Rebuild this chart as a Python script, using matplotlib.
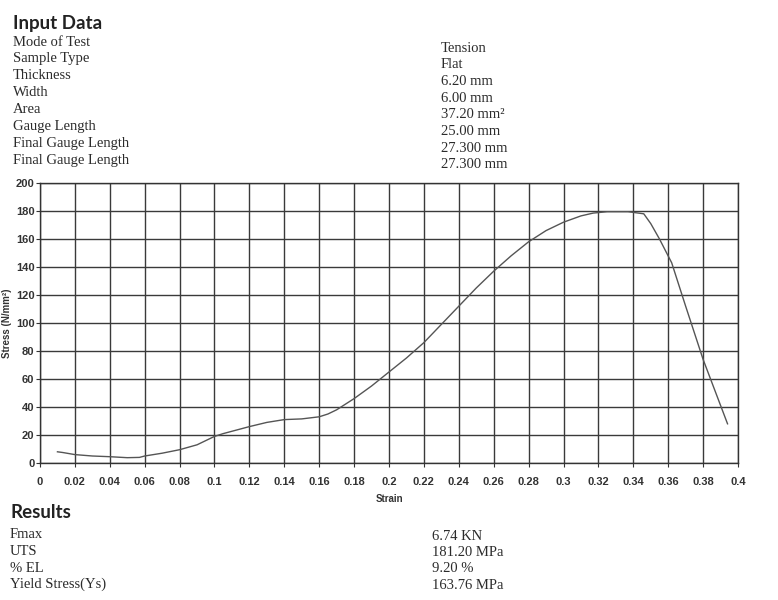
import matplotlib.pyplot as plt
import numpy as np
from matplotlib.ticker import FuncFormatter, MultipleLocator

# stress-strain record
strain = [0.010, 0.013, 0.020, 0.030, 0.040, 0.050, 0.057, 0.060, 0.070, 0.080,
          0.090, 0.100, 0.105, 0.120, 0.130, 0.140, 0.150, 0.160, 0.165, 0.170,
          0.180, 0.190, 0.200, 0.210, 0.220, 0.230, 0.240, 0.250, 0.260, 0.270,
          0.280, 0.290, 0.300, 0.310, 0.317, 0.325, 0.337, 0.346, 0.350, 0.355,
          0.362, 0.370, 0.380, 0.394]
stress = [8.0, 7.5, 6.0, 5.0, 4.5, 3.8, 4.0, 5.0, 7.0, 9.5,
          13.0, 19.0, 21.0, 26.0, 29.0, 31.0, 31.5, 33.0, 35.0, 38.0,
          46.0, 55.0, 65.0, 75.0, 86.0, 99.0, 112.0, 125.0, 137.0, 148.0,
          158.0, 166.0, 172.0, 176.5, 178.5, 179.5, 179.5, 178.0, 171.0, 160.0,
          143.0, 112.0, 74.0, 28.0]

input_labels = ['Mode of Test', 'Sample Type', 'Thickness', 'Width', 'Area',
                'Gauge Length', 'Final Gauge Length', 'Final Gauge Length']
input_values = ['Tension', 'Flat', '6.20 mm', '6.00 mm', '37.20 mm²',
                '25.00 mm', '27.300 mm', '27.300 mm']

result_labels = ['Fmax', 'UTS', '% EL', 'Yield Stress(Ys)']
result_values = ['6.74 KN', '181.20 MPa', '9.20 %', '163.76 MPa']

serif = 'Liberation Serif'
head = 'Lato'
narrow = ['Liberation Sans Narrow', 'Liberation Sans', 'DejaVu Sans']
ink = '#2b2b2b'

fig = plt.figure(figsize=(7.78, 6.0), dpi=100)

def px(x, y):
    return x / 778, 1 - y / 600

fig.text(*px(13, 24), 'Input Data', family=head, weight='bold', fontsize=13.5,
         color='#222222', va='center')
for i, (lab, val) in enumerate(zip(input_labels, input_values)):
    fig.text(*px(13, 42 + i * 16.9), lab, family=serif, fontsize=10.5, color=ink,
             va='center')
    fig.text(*px(441, 48 + i * 16.7), val, family=serif, fontsize=10.5, color=ink,
             va='center')

fig.text(*px(10, 513), 'Results', family=head, weight='bold', fontsize=13.5,
         color='#222222', va='center')
for i, (lab, val) in enumerate(zip(result_labels, result_values)):
    y = 535 + i * 16.5
    fig.text(*px(10, y), lab, family=serif, fontsize=10.5, color=ink, va='center')
    fig.text(*px(432, y + 1), val, family=serif, fontsize=10.5, color=ink, va='center')

ax = fig.add_axes([40 / 778, 1 - 463 / 600, 698 / 778, 280 / 600])
ax.plot(strain, stress, color='#555555', lw=1.0)

ax.set_xlim(0, 0.4)
ax.set_ylim(0, 200)
ax.xaxis.set_major_locator(MultipleLocator(0.02))
ax.yaxis.set_major_locator(MultipleLocator(20))
ax.xaxis.set_major_formatter(FuncFormatter(lambda v, _: f'{v:.2f}'.rstrip('0').rstrip('.')))
ax.grid(True, color='#3a3a3a', lw=1.0)
ax.set_axisbelow(True)
for s in ax.spines.values():
    s.set_color('#333333')
    s.set_linewidth(1.0)
ax.tick_params(axis='y', length=3, color='#333333', pad=1)
ax.tick_params(axis='x', length=3, color='#333333', pad=7)
for t in ax.get_xticklabels() + ax.get_yticklabels():
    t.set_family(narrow)
    t.set_fontsize(8)
    t.set_weight('bold')
    t.set_color('#333333')

ax.set_xlabel('Strain', family=narrow, fontsize=7, weight='bold', color='#333333',
              labelpad=5)
ax.set_ylabel('Stress (N/mm²)', family=narrow, fontsize=7, weight='bold',
              color='#333333', labelpad=3)

fig.savefig('out.png', dpi=100, facecolor='white')
